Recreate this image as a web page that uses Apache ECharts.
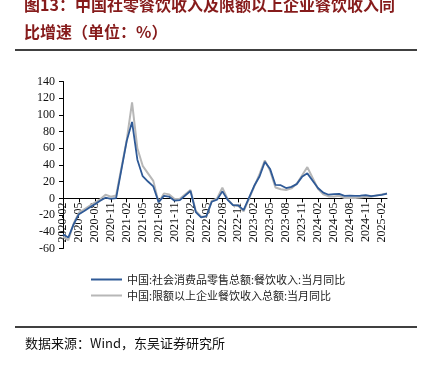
<!DOCTYPE html>
<html>
<head>
<meta charset="utf-8">
<script src="https://cdn.jsdelivr.net/npm/echarts@6/dist/echarts.min.js"></script>
<style>
  html, body { margin: 0; padding: 0; background: #fff; }
  #chart { width: 424px; height: 366px; }
</style>
</head>
<body>
<div id="chart"></div>
<script>
// months 2020-02 .. 2025-03, January has no single-month value (null)
const months = [];
for (let y = 2020; y <= 2025; y++) {
  for (let m = 1; m <= 12; m++) {
    if (y === 2020 && m < 2) continue;
    if (y === 2025 && m > 3) break;
    months.push(y + '-' + (m < 10 ? '0' + m : m));
  }
}

// 中国:社会消费品零售总额:餐饮收入:当月同比
const cateringAll = [
  -43.1, -46.8, -31.1, -18.9, -15.2, -11.0, -7.0, -2.9, 0.8, -0.6, 0.4,
  null, 68.9, 91.6, 46.4, 26.6, 20.2, 14.3, -4.5, 3.1, 2.0, -2.7, -2.0,
  null, 8.9, -16.4, -22.7, -21.1, -4.0, -1.5, 8.4, -1.7, -8.1, -8.4, -14.1,
  null, 15.1, 26.3, 43.8, 35.1, 16.1, 15.8, 12.4, 13.8, 17.1, 25.8, 30.0,
  null, 12.5, 6.9, 4.4, 5.0, 5.4, 3.0, 3.3, 3.1, 3.2, 4.0, 2.7,
  null, 4.3, 5.6
];

// 中国:限额以上企业餐饮收入总额:当月同比
const cateringAboveLimit = [
  -46, -50, -30, -17, -13, -9, -5, -1, 4.5, 2, 3.5,
  null, 70, 115, 60, 39, 30, 21, -5, 6, 4.8, -0.8, -0.4,
  null, 10, -15, -22, -22, -3, 0, 12.8, -1, -8, -9, -15.5,
  null, 14, 29, 45.5, 33, 13, 11, 10, 12, 17.5, 27.5, 37.5,
  null, 11.5, 4.8, 2.4, 2.4, 3.2, 0.5, 0.4, 0.5, 1, 2, 2,
  null, 4.8, 6
];

const seriesNames = [
  '中国:社会消费品零售总额:餐饮收入:当月同比',
  '中国:限额以上企业餐饮收入总额:当月同比'
];

const titleLines = [
  '图13：中国社零餐饮收入及限额以上企业餐饮收入同',
  '比增速（单位：%）'
];
const sourceText = '数据来源：Wind，东吴证券研究所';

const cjk = '"Noto Sans CJK SC", sans-serif';
const serif = '"Liberation Serif", "Noto Sans CJK SC", serif';

const yMin = -60, yMax = 140;
const gridTop = 81.5, gridBottom = 117.5, chartH = 366;
// move the category axis up to the zero line (labels follow it)
const plotH = chartH - gridTop - gridBottom;
const zeroShift = plotH * (0 - yMin) / (yMax - yMin);

let chart = echarts.init(document.getElementById('chart'));

let option = {
  animation: false,
  backgroundColor: '#ffffff',
  graphic: [
    {
      type: 'text', left: 24, top: -3,
      style: { text: titleLines[0], font: 'bold 16px ' + cjk, fill: '#861b1b' }
    },
    {
      type: 'text', left: 24, top: 24,
      style: { text: titleLines[1], font: 'bold 16px ' + cjk, fill: '#861b1b' }
    },
    {
      type: 'line',
      shape: { x1: 15, y1: 50, x2: 417, y2: 50 },
      style: { stroke: '#000', lineWidth: 1.5 }
    },
    {
      type: 'line',
      shape: { x1: 15, y1: 327, x2: 417, y2: 327 },
      style: { stroke: '#000', lineWidth: 1.5 }
    },
    {
      type: 'text', left: 25, top: 337,
      style: { text: sourceText, font: '13px ' + cjk, fill: '#111' }
    }
  ],
  legend: {
    orient: 'vertical',
    left: 86,
    top: 269,
    itemGap: 5,
    itemWidth: 31,
    itemHeight: 2,
    icon: 'rect',
    textStyle: { fontFamily: cjk, fontSize: 11, color: '#222' },
    data: seriesNames
  },
  grid: {
    left: 63,
    right: 37,
    top: gridTop,
    bottom: gridBottom
  },
  xAxis: {
    type: 'category',
    boundaryGap: false,
    data: months,
    offset: -zeroShift,
    axisLine: { onZero: false, lineStyle: { color: '#000', width: 1 } },
    axisTick: { interval: 2, length: 4, lineStyle: { color: '#000' } },
    axisLabel: {
      interval: 2,
      rotate: 90,
      margin: 4,
      fontFamily: serif,
      fontSize: 12,
      color: '#111'
    },
    splitLine: { show: false }
  },
  yAxis: {
    type: 'value',
    min: yMin,
    max: yMax,
    interval: 20,
    axisLine: { show: true, lineStyle: { color: '#000', width: 1 } },
    axisTick: { show: true, length: 4, lineStyle: { color: '#000' } },
    axisLabel: { fontFamily: serif, fontSize: 12, color: '#111', margin: 8 },
    splitLine: { show: false }
  },
  series: [
    {
      name: seriesNames[1],
      type: 'line',
      data: cateringAboveLimit,
      connectNulls: true,
      showSymbol: false,
      z: 2,
      lineStyle: { color: '#b7b7b7', width: 2 },
      itemStyle: { color: '#b7b7b7' }
    },
    {
      name: seriesNames[0],
      type: 'line',
      data: cateringAll,
      connectNulls: true,
      showSymbol: false,
      z: 3,
      lineStyle: { color: '#2f5a97', width: 1.8 },
      itemStyle: { color: '#2f5a97' }
    }
  ]
};

chart.setOption(option);
</script>
</body>
</html>
